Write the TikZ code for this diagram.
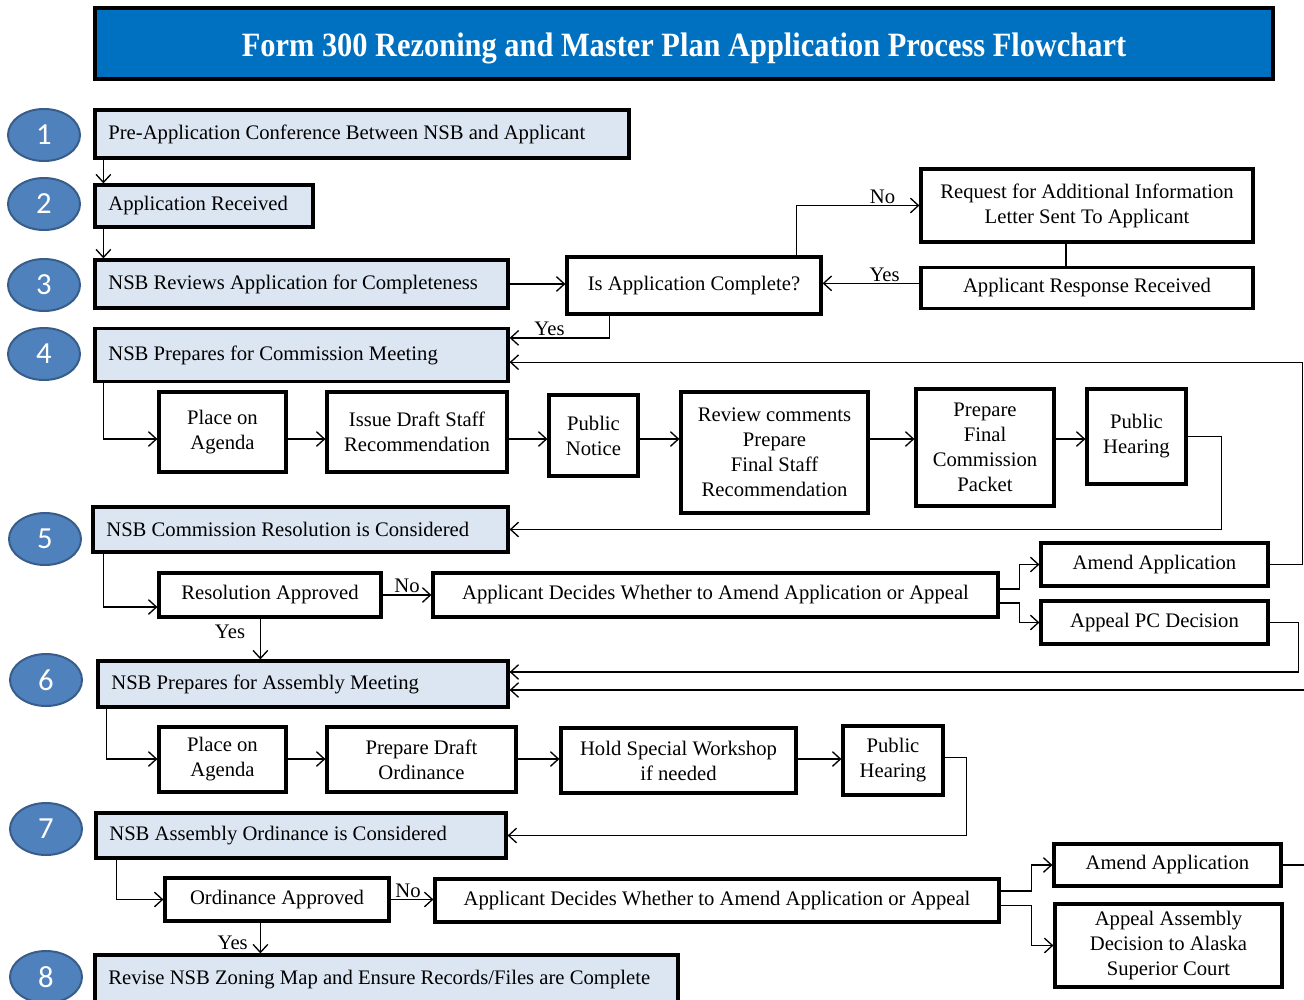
\documentclass[tikz,border=0pt]{standalone}
\usepackage{fontspec}
\setmainfont{Liberation Serif}
\newfontfamily\numfont{Carlito}
\usetikzlibrary{shapes.geometric,arrows.meta}
\definecolor{titleblue}{HTML}{0070C0}
\definecolor{numfill}{HTML}{4F81BD}
\definecolor{numedge}{HTML}{385D8A}
\definecolor{paleblue}{HTML}{DCE6F2}
\begin{document}
\begin{tikzpicture}[x=0.75pt,y=-0.75pt,
        font=\fontsize{15.5}{18.75}\selectfont,
        lbox/.style={draw,line width=2.4pt,fill=paleblue,align=flush left,inner xsep=10pt,inner ysep=0pt},
        wbox/.style={draw,line width=2.4pt,fill=white,align=center,inner sep=2pt},
        num/.style={ellipse,draw=numedge,line width=1.5pt,fill=numfill,text=white,
                    font=\numfont\fontsize{23}{23}\selectfont,minimum width=54pt,minimum height=39pt},
        arr/.style={-{Straight Barb[length=6pt,width=11pt]},line width=1pt},
        lbl/.style={inner sep=1pt}]

    \path[use as bounding box,clip] (0,0) rectangle (1304,1000);

    % title
    \node[draw,line width=2.4pt,fill=titleblue,text=white,minimum width=883.5pt,minimum height=53.25pt,
          font=\fontsize{22.8}{26}\selectfont\bfseries] (title) at (684,43.5)
          {\raisebox{-3.5pt}[\height][\depth]{\scalebox{1}[1.12]{Form 300 Rezoning and Master Plan Application Process Flowchart}}};

    % step numbers
    \node[num] (e1) at (44,135) {1};
    \node[num] (e2) at (44,204) {2};
    \node[num] (e3) at (44,285) {3};
    \node[num] (e4) at (44,354) {4};
    \node[num] (e5) at (45,539) {5};
    \node[num] (e6) at (46,680) {6};
    \node[num] (e7) at (46,829) {7};
    \node[num] (e8) at (46,977) {8};

    % main steps
    \node[lbox,text width=380.5pt,minimum height=36pt] (b1) at (362,134)
        {Pre-Application Conference Between NSB and Applicant};
    \node[lbox,text width=143.5pt,minimum height=31.5pt] (b2) at (204,206) {Application Received};
    \node[lbox,text width=289.75pt,minimum height=36pt] (b3) at (301.5,284)
        {NSB Reviews Application for Completeness};
    \node[lbox,text width=289.75pt,minimum height=39.75pt] (b4) at (301.5,355)
        {NSB Prepares for Commission Meeting};
    \node[lbox,text width=291.25pt,minimum height=33.75pt] (b5) at (300.5,529.5)
        {NSB Commission Resolution is Considered};
    \node[lbox,text width=287.5pt,minimum height=34.5pt] (b6) at (303,684)
        {NSB Prepares for Assembly Meeting};
    \node[lbox,text width=287.5pt,minimum height=33.75pt] (b7) at (301,835.5)
        {NSB Assembly Ordinance is Considered};
    \node[lbox,text width=417.25pt,minimum height=37.5pt] (b8) at (386.5,980)
        {Revise NSB Zoning Map and Ensure Records/Files are Complete};

    % completeness check
    \node[wbox,minimum width=190.5pt,minimum height=42.75pt] (q) at (694,285.5) {Is Application Complete?};
    \node[wbox,minimum width=249pt,minimum height=54.75pt] (req) at (1087,205.5)
        {Request for Additional Information\\Letter Sent To Applicant};
    \node[wbox,minimum width=249pt,minimum height=30.75pt] (resp) at (1087,288) {Applicant Response Received};

    % commission meeting steps
    \node[wbox,minimum width=95.25pt,minimum height=60pt] (pa1) at (222.5,432) {Place on\\Agenda};
    \node[wbox,minimum width=135pt,minimum height=60pt] (ids) at (417,432) {Issue Draft Staff\\Recommendation};
    \node[wbox,minimum width=66.75pt,minimum height=60.75pt] (pn) at (593.5,435.5) {Public\\Notice};
    \node[wbox,minimum width=140.25pt,minimum height=90.75pt] (rc) at (774.5,452.5)
        {Review comments\\Prepare\\Final Staff\\Recommendation};
    \node[wbox,minimum width=103.5pt,minimum height=87.75pt] (pfc) at (985,447.5)
        {Prepare\\Final\\Commission\\Packet};
    \node[wbox,minimum width=74.25pt,minimum height=71.25pt] (ph1) at (1136.5,436.5) {Public\\Hearing};

    % commission decision
    \node[wbox,minimum width=166.5pt,minimum height=33pt] (ra) at (270,595) {Resolution Approved};
    \node[wbox,minimum width=423.75pt,minimum height=33pt] (ad1) at (715.5,595)
        {Applicant Decides Whether to Amend Application or Appeal};
    \node[wbox,minimum width=170.25pt,minimum height=32.25pt] (aa1) at (1154.5,564.5) {Amend Application};
    \node[wbox,minimum width=170.25pt,minimum height=32.25pt] (apc) at (1154.5,622.5) {Appeal PC Decision};

    % assembly meeting steps
    \node[wbox,minimum width=95.25pt,minimum height=48.75pt] (pa2) at (222.5,759.5) {Place on\\Agenda};
    \node[wbox,minimum width=141.75pt,minimum height=48.75pt] (pdo) at (421.5,759.5) {Prepare Draft\\Ordinance};
    \node[wbox,minimum width=176.25pt,minimum height=48.75pt] (hsw) at (678.5,760.5)
        {Hold Special Workshop\\if needed};
    \node[wbox,minimum width=75pt,minimum height=51.75pt] (ph2) at (893,760.5) {Public\\Hearing};

    % assembly decision
    \node[wbox,minimum width=168pt,minimum height=32.25pt] (oa) at (277,899.5) {Ordinance Approved};
    \node[wbox,minimum width=423pt,minimum height=32.25pt] (ad2) at (717,900.5)
        {Applicant Decides Whether to Amend Application or Appeal};
    \node[wbox,minimum width=170.25pt,minimum height=31.5pt] (aa2) at (1167.5,865) {Amend Application};
    \node[wbox,minimum width=170.25pt,minimum height=62.25pt] (aas) at (1168.5,945.5)
        {Appeal Assembly\\Decision to Alaska\\Superior Court};

    \coordinate (r4) at (0,439);
    \coordinate (r6) at (0,759);

    % connectors
    \draw[arr] ([xshift=7.5pt]b1.south west) -- ([xshift=7.5pt]b2.north west);
    \draw[arr] ([xshift=7.5pt]b2.south west) -- ([xshift=7.5pt]b3.north west);
    \draw[arr] (b3.east) -- (b3.east -| q.west);
    \draw[arr] ([xshift=-19.5pt]q.north east) |- (req.west) node[lbl,above,pos=0.85] {No};
    \draw[line width=1pt] ([xshift=-15.75pt]req.south) -- ([xshift=-15.75pt]resp.north);
    \draw[arr] ([yshift=3.5pt]resp.west) -- ([yshift=3.5pt]resp.west -| q.east) node[lbl,above,pos=0.36] {Yes};
    \draw[arr] ([xshift=33pt]q.south west) |- ([yshift=-8.25pt]b4.north east) node[lbl,above,pos=0.8] {Yes};

    \draw[arr] ([xshift=7.5pt]b4.south west) |- (pa1.west |- r4);
    \draw[arr] (pa1.east |- r4) -- (ids.west |- r4);
    \draw[arr] (ids.east |- r4) -- (pn.west |- r4);
    \draw[arr] (pn.east |- r4) -- (rc.west |- r4);
    \draw[arr] (rc.east |- r4) -- (pfc.west |- r4);
    \draw[arr] (pfc.east |- r4) -- (ph1.west |- r4);
    \draw[arr] ([yshift=2pt]ph1.east |- r4) -- ++(25.5pt,0) |- (b5.east);

    \draw[arr] ([xshift=9pt]b5.south west) |- ([yshift=-9pt]ra.west);
    \draw[arr] (ra.east) -- (ad1.west) node[lbl,above,midway] {No};
    \draw[arr] ([xshift=77.25pt]ra.south west) -- ([xshift=77.25pt]ra.south west |- b6.north)
        node[lbl,left=10pt,pos=0.32] {Yes};
    \draw[arr] ([yshift=4.5pt]ad1.east) -- ++(15pt,0) |- (aa1.west);
    \draw[arr] ([yshift=-6pt]ad1.east) -- ++(15pt,0) |- (apc.west);
    \draw[arr] (aa1.east) -- ++(24.75pt,0) |- ([yshift=-5.4pt]b4.east);
    \draw[arr] (apc.east) -- ++(21.75pt,0) |- ([yshift=9pt]b6.east);
    \draw[arr] (aa2.east) -- ++(30pt,0) |- ([yshift=-4.5pt]b6.east);

    \draw[arr] ([xshift=7.5pt]b6.south west) |- (pa2.west |- r6);
    \draw[arr] (pa2.east |- r6) -- (pdo.west |- r6);
    \draw[arr] (pdo.east |- r6) -- (hsw.west |- r6);
    \draw[arr] (hsw.east |- r6) -- (ph2.west |- r6);
    \draw[arr] ([yshift=1pt]ph2.east |- r6) -- ++(16.5pt,0) |- (b7.east);

    \draw[arr] ([xshift=16.5pt]b7.south west) |- (oa.west);
    \draw[arr] (oa.east) -- (oa.east -| ad2.west) node[lbl,above,midway,xshift=-3pt] {No};
    \draw[arr] ([xshift=72.75pt]oa.south west) -- ([xshift=72.75pt]oa.south west |- b8.north)
        node[lbl,left=8pt,pos=0.65] {Yes};
    \draw[arr] ([yshift=7.1pt]ad2.east) -- ++(23.25pt,0) |- (aa2.west);
    \draw[arr] ([yshift=-3.75pt]ad2.east) -- ++(23.25pt,0) |- (aas.west);
\end{tikzpicture}
\end{document}
